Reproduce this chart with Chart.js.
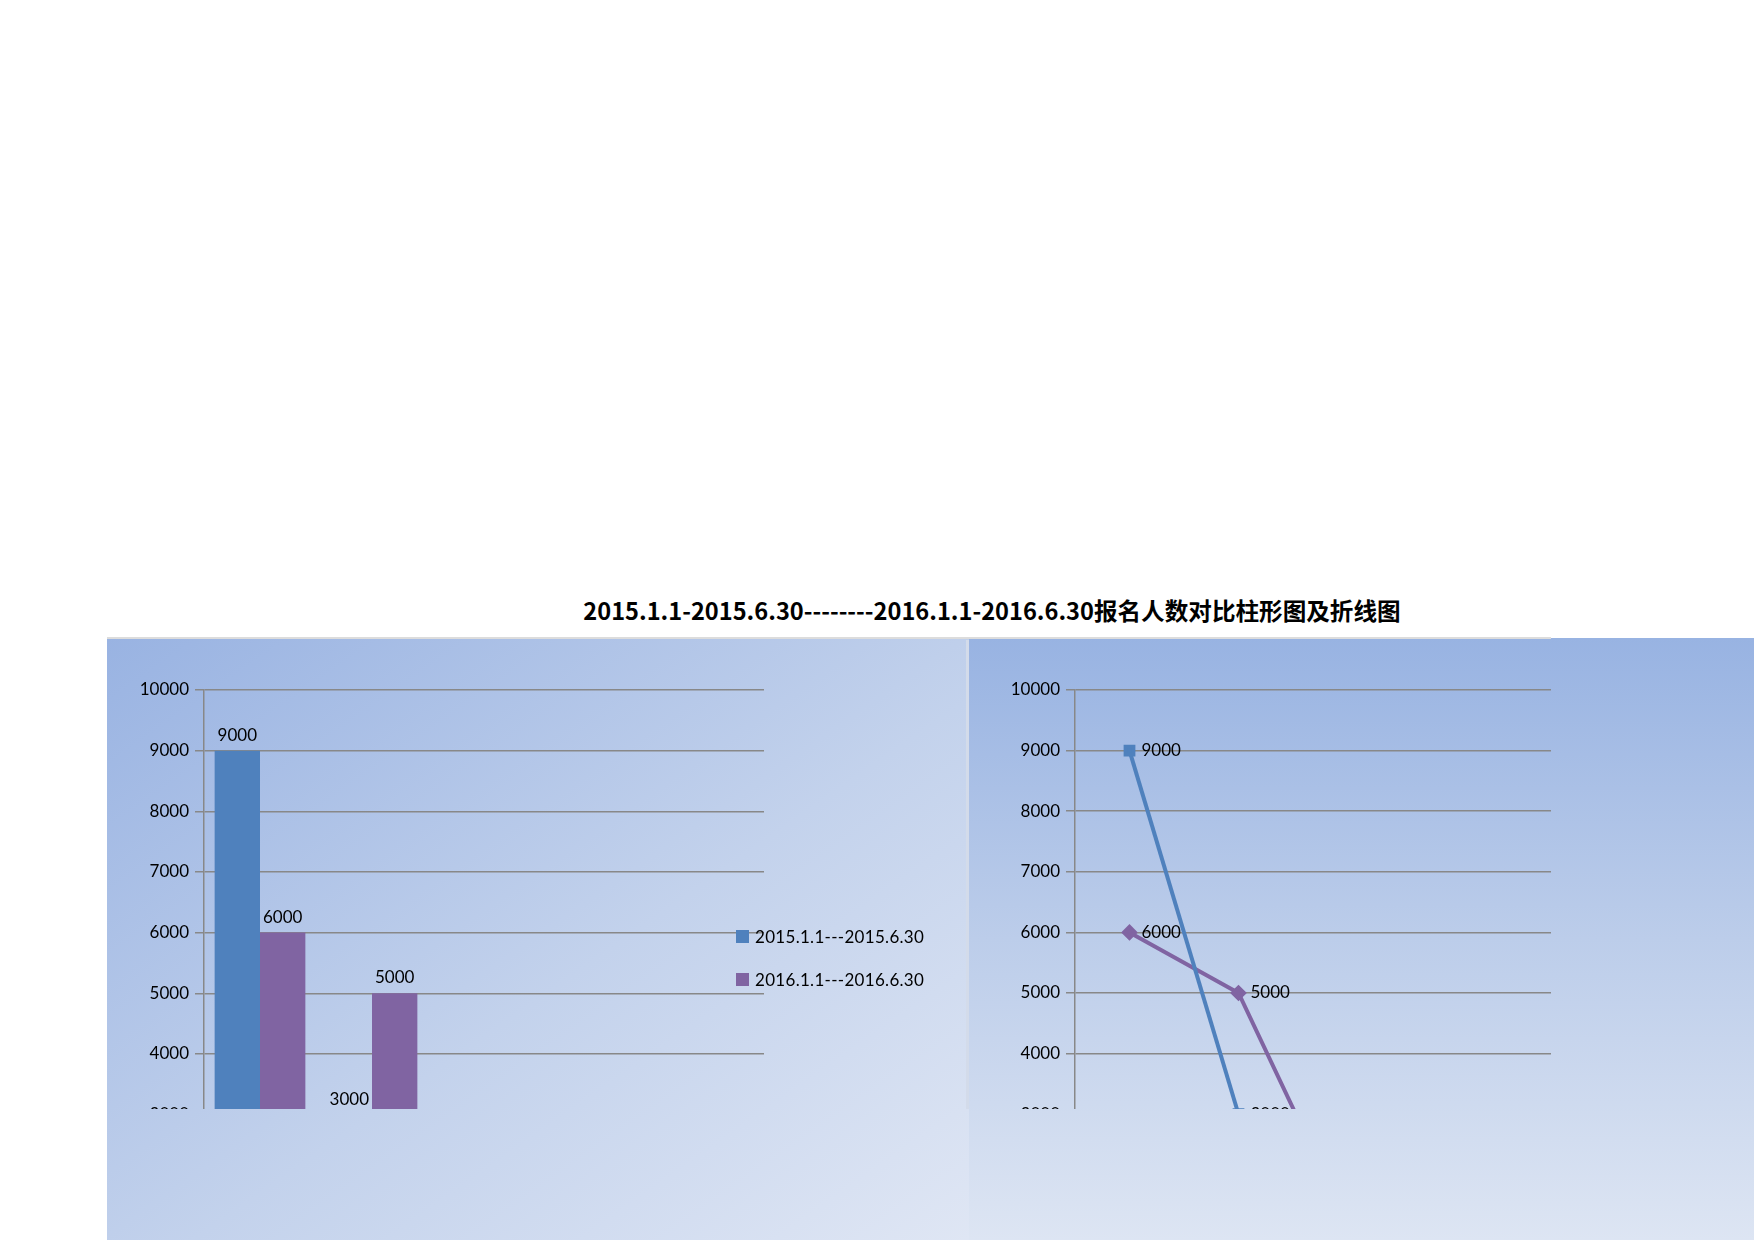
<!DOCTYPE html>
<html lang="zh">
<head>
<meta charset="utf-8">
<title>报名人数对比柱形图及折线图</title>
<script src="https://cdn.jsdelivr.net/npm/chart.js@4.4.1/dist/chart.umd.min.js"></script>
<style>
  html, body { margin: 0; padding: 0; background: #fff; }
  body { width: 1754px; height: 1240px; position: relative; overflow: hidden; font-family: Lato, sans-serif; }
  #title {
    position: absolute; left: 992px; top: 594px; transform: translateX(-50%);
    white-space: nowrap; font: bold 23.6px/32px "Noto Sans CJK SC", sans-serif; color: #000;
  }
  #leftPanel {
    position: absolute; left: 107px; top: 639px; width: 862px; height: 601px;
    background: linear-gradient(to bottom right, #99b3e2 0%, #c3d2ec 55%, #dfe6f4 100%);
  }
  #rightPanel {
    position: absolute; left: 969px; top: 638px; width: 785px; height: 602px;
    background: linear-gradient(to bottom, #98b3e2 0%, #bccdea 50%, #dde5f3 100%);
  }
  #topLine { position: absolute; left: 107px; top: 637px; width: 1444px; height: 2px; background: #dcdcdc; }
  #sepLine { position: absolute; left: 966px; top: 640px; width: 3px; height: 469px; background: #d3dbea; }
  .clip { position: absolute; overflow: hidden; }
  #leftClip { left: 107px; top: 640px; width: 862px; height: 469px; }
  #rightClip { left: 969px; top: 638px; width: 582px; height: 471px; }
  .clip canvas { position: absolute; left: 0; top: 0; }
  #legend { position: absolute; left: 736px; top: 926px; }
  .item { position: relative; height: 43px; white-space: nowrap; }
  .item span.box { position: absolute; left: 0; top: 4px; width: 13px; height: 13px; }
  .item span.txt { position: absolute; left: 19px; top: 0; font: 17px/21px Lato, sans-serif; letter-spacing: 0.3px; color: #000; }
</style>
</head>
<body>
<div id="leftPanel"></div>
<div id="rightPanel"></div>
<div id="topLine"></div>
<div id="sepLine"></div>
<div id="title">2015.1.1-2015.6.30--------2016.1.1-2016.6.30报名人数对比柱形图及折线图</div>
<div class="clip" id="leftClip"><canvas id="barChart" width="862" height="700"></canvas></div>
<div class="clip" id="rightClip"><canvas id="lineChart" width="785" height="700"></canvas></div>
<div id="legend"></div>

<script>
// data (hidden points left empty)
const categories = ["1月", "2月", "3月", "4月", "5月"];
const seriesNames = ["2015.1.1---2015.6.30", "2016.1.1---2016.6.30"];
const values2015 = [9000, 3000, null, null, null];
const values2016 = [6000, 5000, 1200, null, null];
const seriesColors = ["#4f81bd", "#8064a2"];
const yMin = 0;
const yMax = 10000;
const yStep = 1000;

Chart.defaults.font.family = "Lato";
Chart.defaults.font.size = 17;
Chart.defaults.color = "#000";

const gridColor = "#888888";

// value labels like Excel data labels
const valueLabels = {
  id: "valueLabels",
  afterDatasetsDraw(chart) {
    const ctx = chart.ctx;
    ctx.save();
    ctx.font = "17px Lato";
    ctx.fillStyle = "#000";
    chart.data.datasets.forEach((ds, i) => {
      const meta = chart.getDatasetMeta(i);
      meta.data.forEach((el, j) => {
        const v = ds.data[j];
        if (v === null || v === undefined) return;
        if (meta.type === "bar") {
          ctx.textAlign = "center";
          ctx.textBaseline = "bottom";
          ctx.fillText(String(v), el.x, el.y - 7);
        } else {
          ctx.textAlign = "left";
          ctx.textBaseline = "middle";
          ctx.fillText(String(v), el.x + 12, el.y);
        }
      });
    });
    ctx.restore();
  }
};

function yScale(axisWidth) {
  return {
    min: yMin,
    max: yMax,
    ticks: {
      stepSize: yStep, autoSkip: false, padding: 6, color: "#000", font: { size: 17 },
      callback: function (value) { return String(value); }
    },
    grid: { color: gridColor, lineWidth: 1.5, tickLength: 9 },
    border: { color: gridColor, width: 1.5 },
    afterFit: function (s) { s.width = axisWidth; }
  };
}

function xScale() {
  return {
    grid: { display: false },
    border: { display: false },
    ticks: { color: "#000" },
    afterFit: function (s) { s.height = 30; }
  };
}

let barChart = new Chart(document.getElementById("barChart"), {
  type: "bar",
  data: {
    labels: categories,
    datasets: [
      { label: seriesNames[0], data: values2015, backgroundColor: seriesColors[0] },
      { label: seriesNames[1], data: values2016, backgroundColor: seriesColors[1] }
    ]
  },
  options: {
    responsive: false,
    animation: false,
    devicePixelRatio: 1,
    categoryPercentage: 0.81,
    barPercentage: 1.0,
    layout: { padding: { left: 0, top: 50, right: 205, bottom: 13.5 } },
    scales: { x: xScale(), y: yScale(97) },
    plugins: { legend: { display: false }, tooltip: { enabled: false } }
  },
  plugins: [valueLabels]
});

new Chart(document.getElementById("lineChart"), {
  type: "line",
  data: {
    labels: categories,
    datasets: [
      {
        label: seriesNames[0], data: values2015, borderColor: seriesColors[0], backgroundColor: seriesColors[0],
        borderWidth: 4, tension: 0, pointStyle: "rect", pointRadius: 5.5
      },
      {
        label: seriesNames[1], data: values2016, borderColor: seriesColors[1], backgroundColor: seriesColors[1],
        borderWidth: 4, tension: 0, pointStyle: "rectRot", pointRadius: 5.5
      }
    ]
  },
  options: {
    responsive: false,
    animation: false,
    devicePixelRatio: 1,
    layout: { padding: { left: 0, top: 52, right: 134, bottom: 12 } },
    scales: { x: Object.assign(xScale(), { offset: true }), y: yScale(106) },
    plugins: { legend: { display: false }, tooltip: { enabled: false } }
  },
  plugins: [valueLabels]
});

// legend for the bar chart, placed like the original
const legendBox = document.getElementById("legend");
barChart.data.datasets.forEach(function (ds) {
  let item = document.createElement("div");
  item.className = "item";
  item.innerHTML = '<span class="box" style="background:' + ds.backgroundColor + '"></span><span class="txt">' + ds.label + "</span>";
  legendBox.appendChild(item);
});
</script>
</body>
</html>
